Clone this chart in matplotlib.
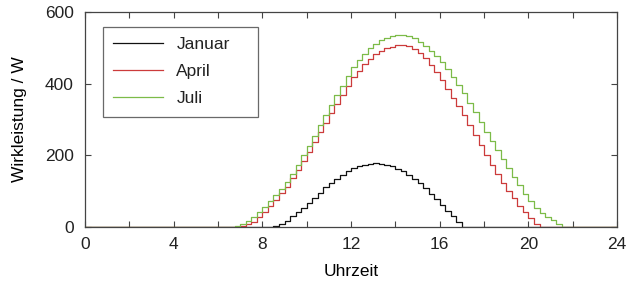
import numpy as np
import matplotlib
matplotlib.use("Agg")
import matplotlib.pyplot as plt
from matplotlib.ticker import MultipleLocator

# 15-minute steps over one day (96 intervals), power in W
step_h = 0.25
hours = np.arange(0, 24 + step_h, step_h)

januar = [0] * 34 + [
    3, 8, 18, 30, 42, 54, 66, 81, 96, 111, 124, 135, 146, 156, 164, 170,
    174, 177, 178, 177, 174, 169, 163, 155, 145, 134, 122, 108, 93, 78,
    62, 46, 30, 14,
] + [0] * 28

april = [0] * 28 + [
    3, 8, 15, 28, 43, 58, 75, 94, 113, 136, 160, 185, 210, 237, 264, 291,
    317, 343, 369, 395, 418, 437, 454, 469, 482, 492, 499, 504, 507, 508,
    505, 497, 486, 471, 453, 433, 410, 386, 361, 337, 312, 285, 257, 229,
    201, 174, 148, 124, 101, 80, 60, 41, 24, 9,
] + [0] * 14

juli = [0] * 27 + [
    3, 8, 16, 27, 42, 57, 72, 88, 106, 126, 149, 174, 200, 227, 255, 284,
    312, 340, 368, 395, 422, 446, 466, 484, 499, 511, 521, 529, 534, 537,
    537, 534, 527, 517, 505, 491, 477, 461, 442, 420, 397, 373, 347, 320,
    293, 266, 240, 214, 189, 164, 140, 116, 93, 72, 54, 39, 28, 19, 9,
] + [0] * 10

labels = ["Januar", "April", "Juli"]
colors = ["#111111", "#cc3b3b", "#7cbb48"]

plt.rcParams['font.family'] = ['Liberation Sans', 'DejaVu Sans']
plt.rcParams['text.color'] = '#222222'

fs = 12.5
fig = plt.figure(figsize=(6.29, 2.82), dpi=100)
ax = fig.add_axes([0.1351, 0.195, 0.846, 0.762])

for series, lab, col in zip([januar, april, juli], labels, colors):
    y = list(series) + [series[-1]]
    ax.step(hours, y, where='post', color=col, linewidth=0.9, label=lab)

ax.set_xlim(0, 24)
ax.set_ylim(0, 600)
ax.xaxis.set_major_locator(MultipleLocator(4))
ax.xaxis.set_minor_locator(MultipleLocator(2))
ax.yaxis.set_major_locator(MultipleLocator(200))

edge = '#444444'
for sp in ax.spines.values():
    sp.set_color(edge)
    sp.set_linewidth(0.9)
ax.tick_params(which='both', direction='in', top=True, right=True,
               length=4, width=0.8, color=edge, labelsize=fs,
               labelcolor='#222222')
ax.tick_params(axis='x', which='both', pad=7)
ax.tick_params(axis='y', which='both', pad=8)

ax.set_xlabel('Uhrzeit', fontsize=fs, labelpad=9)
ax.set_ylabel('Wirkleistung / W', fontsize=fs, labelpad=13)

leg = ax.legend(loc='upper left', bbox_to_anchor=(0.033, 0.5, 0.293, 0.432),
                mode='expand', borderaxespad=0, fontsize=fs, fancybox=False,
                handlelength=2.9, handletextpad=0.75, labelspacing=0.68,
                borderpad=0.6)
leg.get_frame().set_edgecolor(edge)
leg.get_frame().set_linewidth(0.9)

fig.savefig('out.png', dpi=100)
